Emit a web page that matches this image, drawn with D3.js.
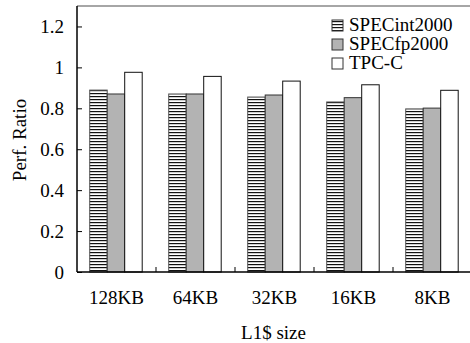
<!DOCTYPE html>
<html>
<head>
<meta charset="utf-8">
<script src="https://cdn.jsdelivr.net/npm/d3@7"></script>
<style>
  body { margin: 0; background: #fff; }
</style>
</head>
<body>
<script>
const categories = ["128KB", "64KB", "32KB", "16KB", "8KB"];
const seriesNames = ["SPECint2000", "SPECfp2000", "TPC-C"];
const specInt = [0.889, 0.870, 0.855, 0.831, 0.797];
const specFp = [0.870, 0.870, 0.865, 0.852, 0.801];
const tpcC = [0.976, 0.956, 0.933, 0.915, 0.888];
const yTicks = [0, 0.2, 0.4, 0.6, 0.8, 1, 1.2];

const series = [specInt, specFp, tpcC];
const w = 470, h = 343;
const m = { left: 77, right: -2, top: 6, bottom: 71 };
const serif = '"Liberation Serif"';
const fs = 19;

const svg = d3.select("body").append("svg")
  .attr("width", w).attr("height", h);

const defs = svg.append("defs");
const pat = defs.append("pattern")
  .attr("id", "hatch")
  .attr("patternUnits", "userSpaceOnUse")
  .attr("width", 6).attr("height", 3);
pat.append("rect").attr("width", 6).attr("height", 3).attr("fill", "#fff");
pat.append("rect").attr("y", 0).attr("width", 6).attr("height", 1.2).attr("fill", "#111");

const fills = ["url(#hatch)", "#b3b3b3", "#fff"];
const strokes = ["#555", "#333", "#111"];

const x = d3.scaleBand().domain(categories).range([m.left, w - m.right]);
const xs = d3.scaleBand().domain(d3.range(3)).range([12.7, 12.7 + 52.5]);
const y = d3.scaleLinear().domain([0, 1.3]).range([h - m.bottom, m.top]);

// top frame line
svg.append("line")
  .attr("x1", m.left).attr("x2", w)
  .attr("y1", y(1.3)).attr("y2", y(1.3))
  .attr("stroke", "#888").attr("stroke-width", 1.5);

const g = svg.append("g");
categories.forEach((c, i) => {
  series.forEach((s, j) => {
    g.append("rect")
      .attr("x", x(c) + xs(j))
      .attr("y", y(s[i]))
      .attr("width", xs.bandwidth())
      .attr("height", y(0) - y(s[i]))
      .attr("fill", fills[j])
      .attr("stroke", strokes[j])
      .attr("stroke-width", 1);
  });
});

// y axis
const yAxis = d3.axisLeft(y).tickValues(yTicks).tickSize(-5).tickPadding(13)
  .tickFormat(d3.format("~g"));
svg.append("g")
  .attr("transform", `translate(${m.left},0)`)
  .call(yAxis)
  .call(a => a.attr("font-family", null).attr("font-size", null))
  .call(a => a.select(".domain").attr("d", `M0,${y(1.3)}V${y(0)}`).attr("stroke", "#000").attr("stroke-width", 1.5))
  .call(a => a.selectAll("text").attr("font-size", fs).attr("fill", "#000").style("font-family", serif));

// x axis
const xAxis = d3.axisBottom(x).tickSize(0).tickPadding(19);
const xa = svg.append("g")
  .attr("transform", `translate(0,${y(0)})`)
  .call(xAxis)
  .call(a => a.attr("font-family", null).attr("font-size", null))
  .call(a => a.select(".domain").attr("d", `M${m.left},0H${w}`).attr("stroke", "#000").attr("stroke-width", 1.5))
  .call(a => a.selectAll("text").attr("font-size", fs).attr("fill", "#000").style("font-family", serif));
xa.selectAll(".sep").data(categories.slice(1)).join("line")
  .attr("class", "sep")
  .attr("x1", d => x(d)).attr("x2", d => x(d))
  .attr("y1", 0).attr("y2", -5)
  .attr("stroke", "#000");

// axis titles
svg.append("text")
  .attr("x", (m.left + w) / 2).attr("y", 339)
  .attr("text-anchor", "middle").attr("font-size", fs)
  .style("font-family", serif)
  .text("L1$ size");
svg.append("text")
  .attr("transform", `translate(26,140) rotate(-90)`)
  .attr("text-anchor", "middle").attr("font-size", fs)
  .style("font-family", serif)
  .text("Perf. Ratio");

// legend
const lg = svg.append("g");
lg.append("rect").attr("x", 308).attr("y", 8).attr("width", 162).attr("height", 70).attr("fill", "#fff");
seriesNames.forEach((n, j) => {
  const cy = 25 + j * 19;
  lg.append("rect")
    .attr("x", 332).attr("y", cy - 5).attr("width", 11).attr("height", 11)
    .attr("fill", fills[j]).attr("stroke", "#333");
  lg.append("text")
    .attr("x", 349).attr("y", cy + 6)
    .attr("font-size", 19)
    .style("font-family", serif)
    .text(n);
});
</script>
</body>
</html>
